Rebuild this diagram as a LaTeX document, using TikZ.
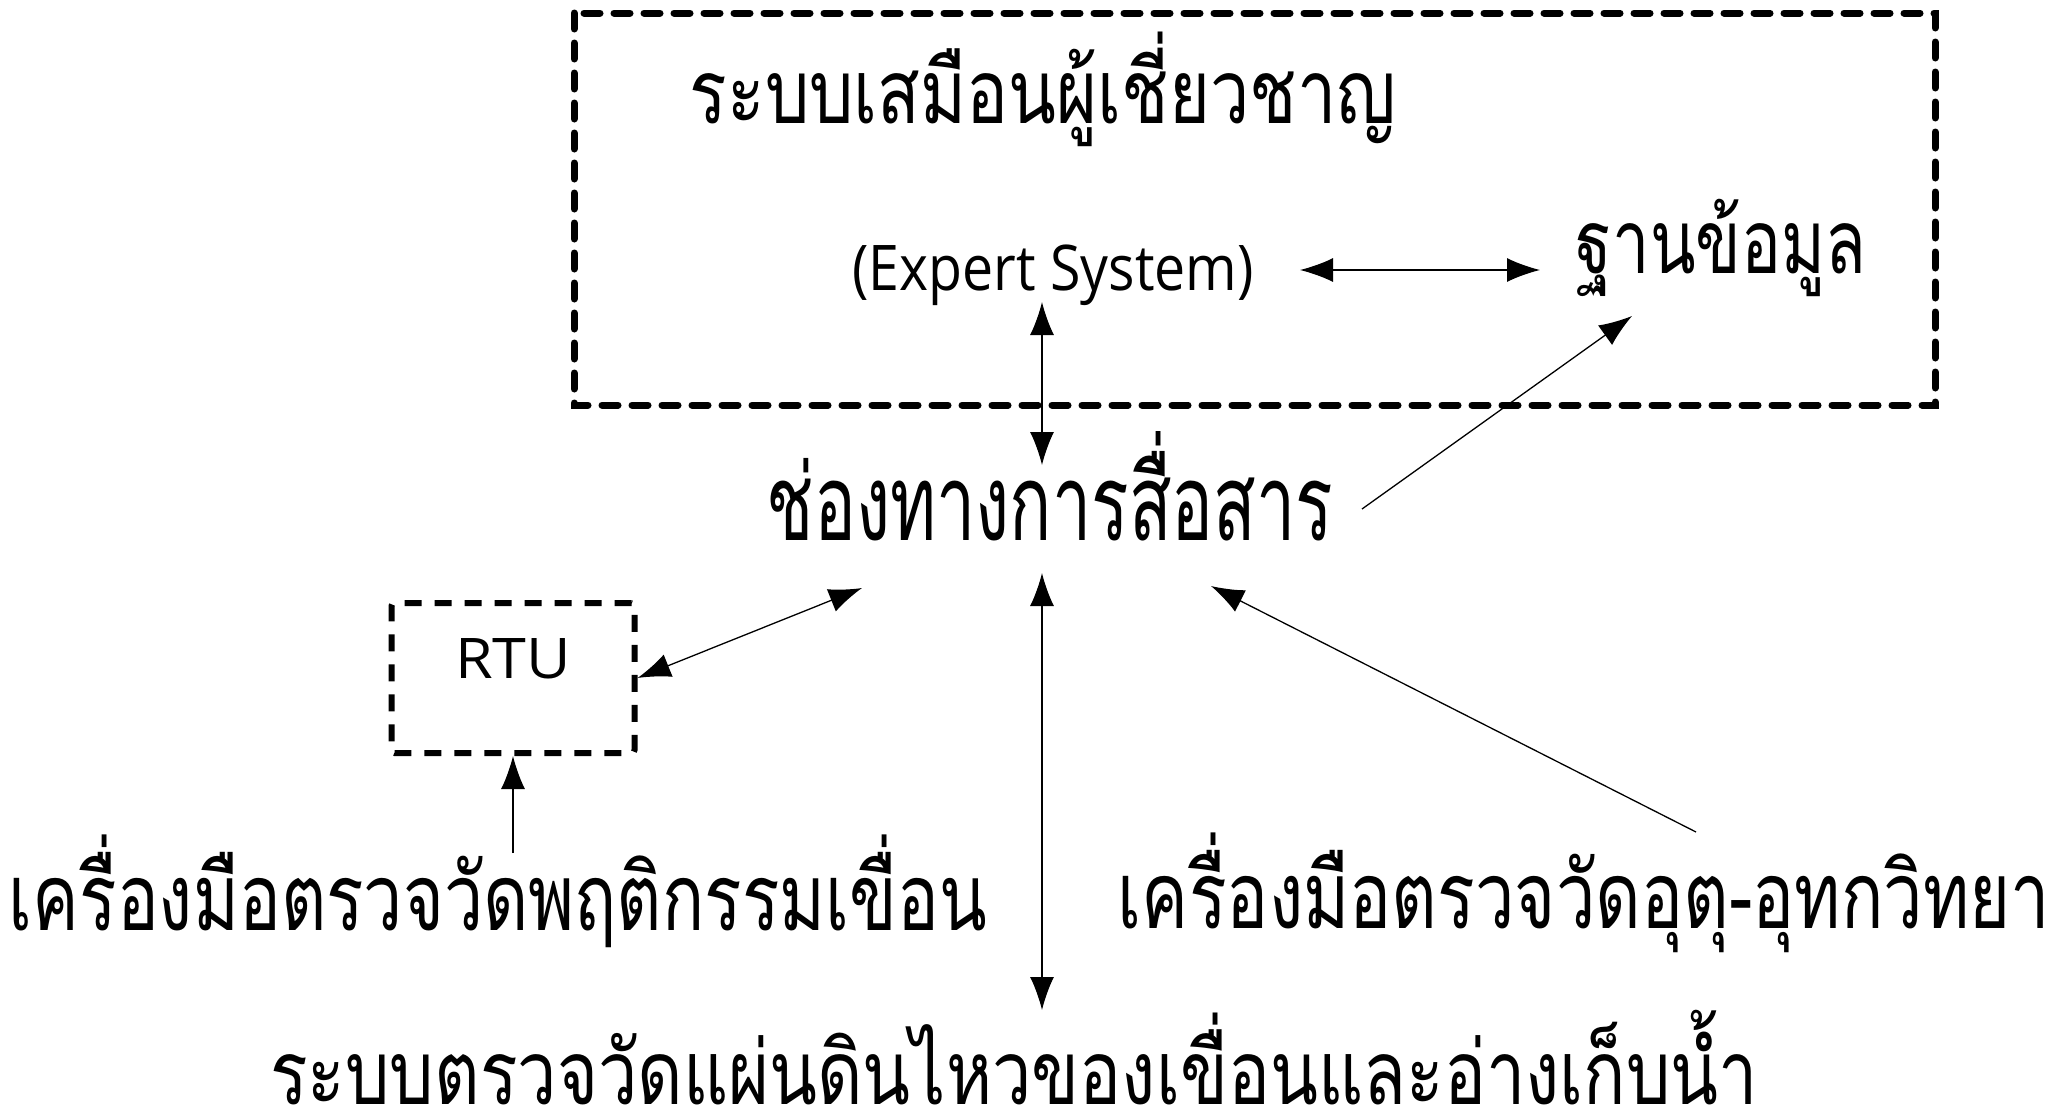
\documentclass[tikz,border=0pt]{standalone}
\usepackage{fontspec}
\usetikzlibrary{arrows.meta}
\newcommand\thaitext[2]{\fontspec[Script=Thai,FakeStretch=#2]{Loma}\fontsize{#1}{#1}\selectfont}
\newcommand\latintext[2]{\fontspec[FakeStretch=#2]{Open Sans}\fontsize{#1}{#1}\selectfont}
\begin{document}
\begin{tikzpicture}[x=1pt,y=-1pt,
  lbl/.style={inner sep=0pt, anchor=base},
  arr/.style={line width=1.3pt,-{Latex[length=33pt,width=24pt]}},
  darr/.style={line width=1.3pt,{Latex[length=33pt,width=24pt]}-{Latex[length=33pt,width=24pt]}},
  bigdash/.style={line width=7pt, dash pattern=on 16pt off 14pt, line cap=round},
  rtudash/.style={line width=6pt, dash pattern=on 17pt off 13pt, rounded corners=3pt},
]
\useasboundingbox[fill=white] (0,0) rectangle (2064,1111);
% expert system frame
\draw[bigdash] (574,13) rectangle (1935,405);
% texts
\node[lbl, font=\thaitext{89}{0.787}] (title) at (1043,123) {ระบบเสมือนผู้เชี่ยวชาญ};
\node[lbl, font=\latintext{63}{0.88}] (es) at (1053,290) {(Expert System)};
\node[lbl, font=\thaitext{89}{0.75}] (db) at (1721,273) {ฐานข้อมูล};
\node[lbl, font=\thaitext{106}{0.66}] (comm) at (1050,540) {ช่องทางการสื่อสาร};
\node[draw, rtudash, minimum width=243, minimum height=150, text height=40pt, text depth=40pt,
      inner sep=0pt, font=\latintext{56}{1.09}] (rtu) at (513,678) {RTU};
\node[lbl, font=\thaitext{93}{0.751}] (dam) at (498,930) {เครื่องมือตรวจวัดพฤติกรรมเขื่อน};
\node[lbl, font=\thaitext{93}{0.756}] (hydro) at (1584,928) {เครื่องมือตรวจวัดอุตุ-อุทกวิทยา};
\node[lbl, font=\thaitext{89}{0.788}] (seis) at (1014,1104) {ระบบตรวจวัดแผ่นดินไหวของเขื่อนและอ่างเก็บน้ำ};
% connector ends
\coordinate (es-e) at (1300,270);
\coordinate (db-w) at (1540,270);
\coordinate (es-s) at (1042,302);
\coordinate (comm-n) at (1042,465);
\coordinate (comm-ne) at (1362,509);
\coordinate (db-sw) at (1632,316);
\coordinate (comm-sw) at (862,588);
\coordinate (comm-s) at (1042,573);
\coordinate (comm-se) at (1211,586);
\coordinate (dam-n) at (513,853);
\coordinate (hydro-n) at (1696,832);
\coordinate (seis-n) at (1042,1010);
% connectors
\draw[darr] (es-e) -- (db-w);
\draw[darr] (es-s) -- (comm-n);
\draw[arr] (comm-ne) -- (db-sw);
\draw[darr] (rtu.east) -- (comm-sw);
\draw[arr] (dam-n) -- (rtu.south);
\draw[darr] (comm-s) -- (seis-n);
\draw[arr] (hydro-n) -- (comm-se);
\end{tikzpicture}
\end{document}
